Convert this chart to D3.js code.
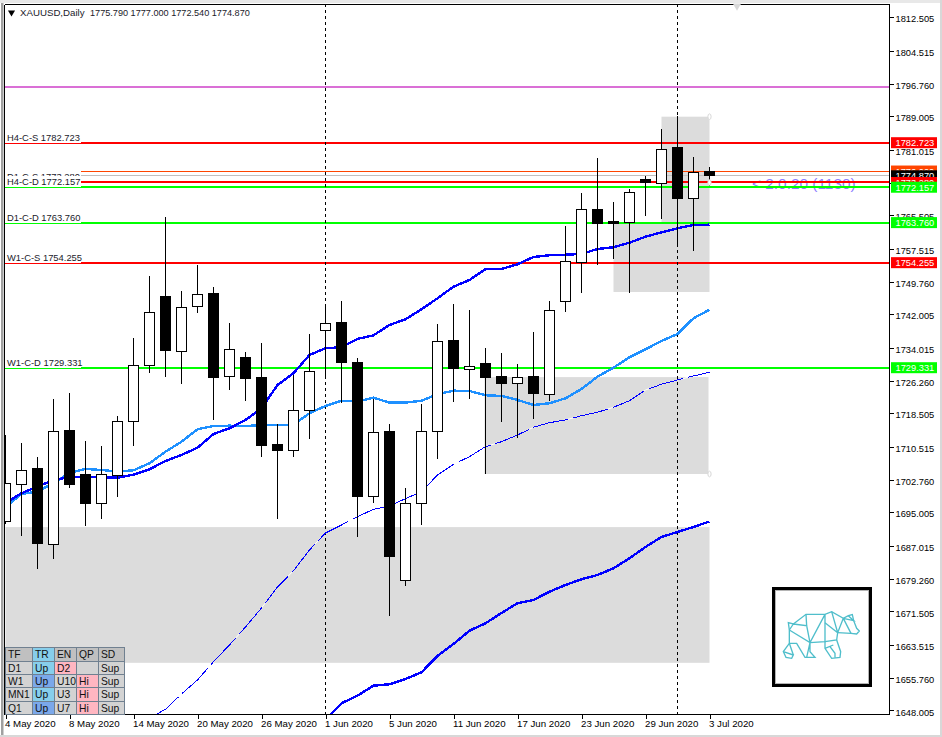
<!DOCTYPE html>
<html>
<head>
<meta charset="utf-8">
<script src="https://cdn.jsdelivr.net/npm/d3@7"></script>
<style>
  html, body { margin: 0; padding: 0; background: #fff; overflow: hidden; }
  svg { display: block; font-family: "Liberation Sans", Arial, sans-serif; }
  .tick text { font-family: "Liberation Sans", Arial, sans-serif; }
</style>
</head>
<body>
<script>
// prices, one entry per trading day from 4 May to 3 Jul 2020
var opens = [1692.72, 1701.57, 1705.30, 1687.33, 1714.31, 1703.87, 1697.06, 1703.80, 1716.52, 1729.90,
  1746.11, 1733.23, 1743.81, 1746.82, 1727.20, 1731.64, 1726.89, 1710.99, 1709.73, 1719.23,
  1738.11, 1739.94, 1730.45, 1698.72, 1714.08, 1678.79, 1697.16, 1714.24, 1735.67, 1728.86,
  1730.21, 1727.13, 1725.63, 1727.13, 1723.02, 1745.09, 1754.35, 1766.76, 1763.91, 1763.84,
  1773.88, 1773.09, 1781.47, 1769.44, 1775.79];
var highs = [1713.36, 1711.47, 1708.14, 1721.84, 1723.33, 1711.94, 1710.75, 1717.87, 1736.38, 1751.10,
  1765.17, 1747.54, 1753.71, 1748.48, 1739.94, 1733.06, 1735.20, 1715.90, 1727.53, 1737.26,
  1744.45, 1745.16, 1731.64, 1721.91, 1715.97, 1700.79, 1720.72, 1739.70, 1744.45, 1743.03,
  1734.01, 1732.82, 1730.21, 1737.81, 1745.16, 1762.96, 1770.79, 1779.10, 1768.66, 1771.67,
  1774.83, 1785.98, 1789.06, 1779.33, 1777.00];
var lows = [1692.24, 1689.47, 1681.57, 1684.01, 1700.79, 1691.77, 1693.50, 1698.65, 1710.83, 1728.15,
  1727.20, 1725.47, 1742.39, 1717.00, 1724.11, 1721.50, 1708.22, 1693.50, 1708.22, 1712.49,
  1726.72, 1721.03, 1689.23, 1697.16, 1670.49, 1677.60, 1692.01, 1707.74, 1721.27, 1721.98,
  1704.04, 1716.52, 1712.72, 1717.23, 1721.50, 1742.62, 1747.13, 1753.78, 1755.20, 1747.13,
  1765.33, 1764.69, 1758.05, 1757.03, 1772.54];
var closes = [1701.74, 1704.99, 1687.50, 1714.24, 1701.57, 1696.99, 1703.87, 1716.62, 1729.90, 1742.48,
  1733.37, 1743.67, 1746.75, 1726.96, 1733.70, 1726.72, 1710.83, 1709.57, 1719.23, 1728.48,
  1739.87, 1730.52, 1698.72, 1714.00, 1684.49, 1697.16, 1714.24, 1735.60, 1729.10, 1729.67,
  1726.96, 1725.54, 1727.06, 1723.17, 1742.96, 1754.58, 1766.92, 1763.51, 1763.51, 1770.96,
  1773.24, 1781.16, 1769.44, 1775.70, 1774.87];

// moving averages, the last two only start part way through the chart
var maFast = [1697.23, 1699.53, 1701.10, 1702.69, 1703.33, 1703.47, 1703.33, 1703.23, 1703.94, 1705.22,
  1707.19, 1708.62, 1710.35, 1713.60, 1714.95, 1716.92, 1719.70, 1725.23, 1728.01, 1732.35,
  1733.94, 1734.18, 1736.15, 1737.02, 1739.47, 1740.82, 1743.19, 1745.80, 1748.56, 1750.15,
  1752.69, 1752.76, 1753.87, 1755.60, 1756.01, 1756.15, 1756.32, 1757.50, 1757.91, 1759.00,
  1760.42, 1761.46, 1762.41, 1763.20, 1763.27];
var maMid = [1696.28, 1699.36, 1699.91, 1701.97, 1704.35, 1705.30, 1705.06, 1704.66, 1704.99, 1706.65,
  1709.40, 1711.77, 1714.72, 1715.50, 1715.57, 1715.50, 1715.67, 1715.74, 1715.81, 1718.51,
  1720.25, 1721.50, 1721.27, 1722.22, 1721.03, 1721.03, 1721.50, 1723.02, 1723.88, 1723.81,
  1722.79, 1722.62, 1721.67, 1720.48, 1720.89, 1722.07, 1724.28, 1727.20, 1729.34, 1731.80,
  1733.70, 1735.67, 1737.33, 1741.06, 1743.10];
var maSlowStart = 9;
var maSlow = [1646.21, 1648.27, 1651.90, 1655.23, 1659.57, 1663.53, 1667.80, 1672.31, 1677.29, 1681.16,
  1686.07, 1690.11, 1692.01, 1693.98, 1695.73, 1696.52, 1698.25, 1699.91, 1703.87, 1706.41,
  1708.22, 1710.59, 1711.77, 1713.36, 1715.19, 1716.28, 1716.92, 1717.94, 1718.75, 1719.94,
  1721.50, 1724.04, 1725.40, 1726.42, 1727.37, 1728.24];
var maLongStart = 20;
var maLong = [1645.73, 1649.70, 1651.50, 1653.87, 1654.21, 1655.46, 1657.05, 1660.92, 1663.77, 1666.92,
  1668.68, 1671.13, 1673.43, 1674.21, 1676.18, 1677.77, 1679.12, 1680.14, 1681.73, 1684.11,
  1686.79, 1689.16, 1690.35, 1691.53, 1692.84];

var priceTicks = [1812.505, 1804.515, 1796.760, 1789.005, 1781.015, 1773.260, 1765.505, 1757.515, 1749.760,
  1742.005, 1734.015, 1726.260, 1718.505, 1710.515, 1702.760, 1695.005, 1687.015, 1679.260, 1671.505,
  1663.515, 1655.760, 1648.005];
var dateTickBars = [0, 4, 8, 12, 16, 20, 24, 28, 32, 36, 40, 44];
var dateTickLabels = ['4 May 2020', '8 May 2020', '14 May 2020', '20 May 2020', '26 May 2020', '1 Jun 2020',
  '5 Jun 2020', '11 Jun 2020', '17 Jun 2020', '23 Jun 2020', '29 Jun 2020', '3 Jul 2020'];

// drawn levels
var levelNames = ['D1-C-S', 'H4-C-S', 'H4-C-D', 'D1-C-D', 'W1-C-S', 'W1-C-D'];
var levelPrices = [1773.280, 1782.723, 1772.157, 1763.760, 1754.255, 1729.331];
var keyLevel = 1796.0;
var orangeLevel = 1776.0;
var lastPrice = 1774.87;

// grey zones: bar it starts at, top price, bottom price
var zoneStarts = [0, 30, 38, 41];
var zoneTops = [1691.5, 1727.1, 1763.8, 1788.9];
var zoneBottoms = [1659.3, 1704.1, 1747.3, 1763.8];
var markerPrices = [1788.9, 1773.28, 1704.1];

var tableHeader = ['TF', 'TR', 'EN', 'QP', 'SD'];
var tableRows = [
  ['D1', 'Up', 'D2', '', 'Sup'],
  ['W1', 'Up', 'U10', 'Hi', 'Sup'],
  ['MN1', 'Up', 'U3', 'Hi', 'Sup'],
  ['Q1', 'Up', 'U7', 'Hi', 'Sup']
];

var svgWidth = 942;
var svgHeight = 737;
var plotLeft = 4;
var plotRight = 889;
var plotTop = 4;
var plotBottom = 714;
var lastBar = opens.length - 1;
var bodyWidth = 10;
var tickFont = 9.3;

var svg = d3.select('body').append('svg')
  .attr('width', svgWidth)
  .attr('height', svgHeight);

var x = d3.scaleLinear().domain([0, 44]).range([5.5, 709.5]);
var y = d3.scaleLinear().domain([1648.005, 1812.505]).range([710.4, 17.2]);

// window frame
svg.append('rect').attr('width', svgWidth).attr('height', svgHeight).attr('fill', '#fff');
svg.append('rect').attr('x', 1).attr('y', 0).attr('width', 2.5).attr('height', svgHeight).attr('fill', '#a0a0a0');
svg.append('rect').attr('x', 0).attr('y', 0).attr('width', svgWidth).attr('height', 3).attr('fill', '#e8e8e8');
svg.append('rect').attr('x', 0).attr('y', 735).attr('width', svgWidth).attr('height', 2).attr('fill', '#d8d8d8');
svg.append('rect').attr('x', 940).attr('y', 0).attr('width', 2).attr('height', svgHeight).attr('fill', '#d8d8d8');

svg.append('clipPath').attr('id', 'plot').append('rect')
  .attr('x', plotLeft + 1).attr('y', plotTop + 1)
  .attr('width', plotRight - plotLeft - 1).attr('height', plotBottom - plotTop - 1);

var plot = svg.append('g').attr('clip-path', 'url(#plot)');

// zones
plot.selectAll('.zone')
  .data(zoneStarts)
  .enter()
  .append('rect')
  .attr('class', 'zone')
  .attr('x', function(d) { return Math.round(x(d)) - 0.5; })
  .attr('y', function(d, i) { return y(zoneTops[i]); })
  .attr('width', function(d) { return x(lastBar) - x(d); })
  .attr('height', function(d, i) { return y(zoneBottoms[i]) - y(zoneTops[i]); })
  .attr('fill', '#dcdcdc');

// countdown sits under the level lines
plot.append('text')
  .attr('x', 752)
  .attr('y', 188.5)
  .attr('font-size', 15.4)
  .attr('fill', '#8c7cff')
  .text('< 2:0:20 (1130)');

var addLevel = function(price, colour, width) {
  plot.append('line')
    .attr('x1', plotLeft).attr('x2', plotRight)
    .attr('y1', y(price)).attr('y2', y(price))
    .attr('stroke', colour)
    .attr('stroke-width', width)
    .attr('shape-rendering', 'crispEdges');
};

addLevel(keyLevel, '#da70d6', 2);
addLevel(orangeLevel, '#ff4500', 1);
addLevel(lastPrice, '#c0c0c0', 1);

var levelColour = function(name) {
  return name.slice(-1) === 'S' ? '#ff0000' : '#00ff00';
};

levelNames.forEach(function(name, i) {
  addLevel(levelPrices[i], levelColour(name), 2);
});

// labels with a white plate that eats the upper half of the line
var labels = plot.selectAll('.level-label')
  .data(levelNames)
  .enter()
  .append('g')
  .attr('class', 'level-label');

labels.append('rect')
  .attr('x', 5)
  .attr('y', function(d, i) { return Math.round(y(levelPrices[i])) - 11; })
  .attr('width', 76)
  .attr('height', 11)
  .attr('fill', '#fff');

labels.append('text')
  .attr('x', 7)
  .attr('y', function(d, i) { return y(levelPrices[i]) - 2; })
  .attr('font-size', 9.4)
  .attr('fill', '#1a1a2a')
  .text(function(d, i) { return d + ' ' + levelPrices[i].toFixed(3); });

// the two session separators
plot.selectAll('.separator')
  .data([20, 42])
  .enter()
  .append('line')
  .attr('class', 'separator')
  .attr('x1', function(d) { return x(d); })
  .attr('x2', function(d) { return x(d); })
  .attr('y1', plotTop)
  .attr('y2', plotBottom)
  .attr('stroke', '#000')
  .attr('stroke-dasharray', '3,3')
  .attr('shape-rendering', 'crispEdges');

var maLine = function(start) {
  return d3.line()
    .x(function(d, i) { return x(i + start); })
    .y(function(d) { return y(d); });
};

plot.append('path')
  .attr('d', maLine(maSlowStart)(maSlow))
  .attr('fill', 'none')
  .attr('stroke', '#fff')
  .attr('stroke-width', 1);
plot.append('path')
  .attr('d', maLine(maSlowStart)(maSlow))
  .attr('fill', 'none')
  .attr('stroke', '#0000ff')
  .attr('stroke-width', 1)
  .attr('stroke-dasharray', '36,5')
  .attr('shape-rendering', 'crispEdges');
plot.append('path')
  .attr('d', maLine(0)(maMid))
  .attr('fill', 'none')
  .attr('stroke', '#1e90ff')
  .attr('stroke-width', 2.4)
  .attr('shape-rendering', 'crispEdges');
plot.append('path')
  .attr('d', maLine(0)(maFast))
  .attr('fill', 'none')
  .attr('stroke', '#0000ff')
  .attr('stroke-width', 2.4)
  .attr('shape-rendering', 'crispEdges');
plot.append('path')
  .attr('d', maLine(maLongStart)(maLong))
  .attr('fill', 'none')
  .attr('stroke', '#0000ff')
  .attr('stroke-width', 2.4)
  .attr('shape-rendering', 'crispEdges');

// candles
var candles = plot.selectAll('.candle')
  .data(opens)
  .enter()
  .append('g')
  .attr('class', 'candle');

candles.append('line')
  .attr('x1', function(d, i) { return x(i); })
  .attr('x2', function(d, i) { return x(i); })
  .attr('y1', function(d, i) { return y(highs[i]); })
  .attr('y2', function(d, i) { return y(lows[i]); })
  .attr('stroke', '#000')
  .attr('shape-rendering', 'crispEdges');

candles.append('rect')
  .attr('x', function(d, i) { return x(i) - bodyWidth / 2; })
  .attr('y', function(d, i) { return y(Math.max(d, closes[i])); })
  .attr('width', bodyWidth)
  .attr('height', function(d, i) { return Math.abs(y(d) - y(closes[i])); })
  .attr('fill', function(d, i) { return closes[i] >= d ? '#fff' : '#000'; })
  .attr('stroke', '#000')
  .attr('shape-rendering', 'crispEdges');

// small grey ellipses at the right end of the zones
plot.selectAll('.marker')
  .data(markerPrices)
  .enter()
  .append('ellipse')
  .attr('class', 'marker')
  .attr('cx', x(lastBar))
  .attr('cy', function(d) { return y(d); })
  .attr('rx', 1.6)
  .attr('ry', 2.8)
  .attr('fill', '#fff')
  .attr('stroke', '#d8d8d8')
  .attr('stroke-width', 1);

// axes
var rightAxis = d3.axisRight(y)
  .tickValues(priceTicks)
  .tickFormat(d3.format('.3f'))
  .tickSize(4)
  .tickPadding(2);

var rightG = svg.append('g')
  .attr('transform', 'translate(' + (plotRight + 0.5) + ',0)')
  .call(rightAxis);
rightG.select('.domain').remove();
rightG.selectAll('line').attr('shape-rendering', 'crispEdges');
rightG.selectAll('text')
  .attr('font-size', tickFont)
  .attr('dy', '0.5em')
  .attr('fill', '#000');

var bottomAxis = d3.axisBottom(x)
  .tickValues(dateTickBars)
  .tickFormat(function(d, i) { return dateTickLabels[i]; })
  .tickSize(4)
  .tickPadding(2);

var bottomG = svg.append('g')
  .attr('transform', 'translate(0,' + (plotBottom + 0.5) + ')')
  .call(bottomAxis);
bottomG.select('.domain').remove();
bottomG.selectAll('line').attr('shape-rendering', 'crispEdges');
bottomG.selectAll('text')
  .attr('font-size', 9.7)
  .attr('text-anchor', 'start')
  .attr('dx', -1)
  .attr('fill', '#000');

var frame = [
  [plotLeft, plotTop, plotLeft, plotBottom],
  [plotLeft, plotTop, plotRight, plotTop],
  [plotRight, plotTop, plotRight, plotBottom],
  [plotLeft, plotBottom, plotRight, plotBottom]
];
svg.selectAll('.frame')
  .data(frame)
  .enter()
  .append('line')
  .attr('class', 'frame')
  .attr('x1', function(d) { return d[0] + 0.5; })
  .attr('y1', function(d) { return d[1] + 0.5; })
  .attr('x2', function(d) { return d[2] + 0.5; })
  .attr('y2', function(d) { return d[3] + 0.5; })
  .attr('stroke', '#000')
  .attr('shape-rendering', 'crispEdges');

// price tags on the right, order matters where they overlap
var tagPrices = [orangeLevel, lastPrice, 1782.723, 1773.280, 1772.157, 1763.760, 1754.255, 1729.331];
var tagColours = ['#ff4500', '#000000', '#ff0000', '#ff0000', '#00ff00', '#00ff00', '#ff0000', '#00ff00'];
var tags = svg.selectAll('.tag')
  .data(tagPrices)
  .enter()
  .append('g')
  .attr('class', 'tag');

tags.append('rect')
  .attr('x', 891)
  .attr('y', function(d) { return y(d) - 5.5; })
  .attr('width', 46)
  .attr('height', 11)
  .attr('fill', function(d, i) { return tagColours[i]; });

tags.append('text')
  .attr('x', 895.5)
  .attr('y', function(d) { return y(d) + 3.6; })
  .attr('font-size', tickFont)
  .attr('fill', '#fff')
  .text(function(d) { return d.toFixed(3); });

// header
svg.append('path')
  .attr('d', d3.symbol().type(d3.symbolTriangle).size(22))
  .attr('transform', 'translate(11.5,12.5) rotate(180)')
  .attr('fill', '#000');
svg.append('text')
  .attr('x', 20)
  .attr('y', 16)
  .attr('font-size', 9.7)
  .attr('fill', '#1a1a2a')
  .text('XAUUSD,Daily');
svg.append('text')
  .attr('x', 90)
  .attr('y', 16)
  .attr('font-size', 9.15)
  .attr('fill', '#1a1a2a')
  .text('1775.790 1777.000 1772.540 1774.870');

// scroll marker at the top
svg.append('path')
  .attr('d', d3.symbol().type(d3.symbolTriangle).size(30))
  .attr('transform', 'translate(737,6) rotate(180)')
  .attr('fill', '#d8d8d8');

// status table
var colEdges = [5, 32, 54, 76, 98, 124];
var rowEdges = [647, 660.5, 674, 687, 700.5, 714];
var cellRows = [tableHeader].concat(tableRows);

var cellFill = function(r, c, text) {
  if (c === 1) { return (r === 2 || r === 4) ? '#7ba8ea' : '#87ceeb'; }
  if (text === 'D2' || text === 'Hi') { return '#ffb6c1'; }
  return r === 0 ? '#c0c0c0' : '#d3d3d3';
};

var rows = svg.selectAll('.table-row')
  .data(cellRows)
  .enter()
  .append('g')
  .attr('class', 'table-row');

rows.each(function(row, r) {
  var cells = d3.select(this).selectAll('g')
    .data(row)
    .enter()
    .append('g');
  cells.append('rect')
    .attr('x', function(d, c) { return colEdges[c] + 0.5; })
    .attr('y', rowEdges[r] + 0.5)
    .attr('width', function(d, c) { return colEdges[c + 1] - colEdges[c]; })
    .attr('height', rowEdges[r + 1] - rowEdges[r])
    .attr('fill', function(d, c) { return cellFill(r, c, d); })
    .attr('stroke', '#708090')
    .attr('shape-rendering', 'crispEdges');
  cells.append('text')
    .attr('x', function(d, c) { return colEdges[c] + 3; })
    .attr('y', rowEdges[r] + 11)
    .attr('font-size', 10.3)
    .attr('fill', '#111')
    .text(function(d) { return d; });
});

// logo box
var logo = svg.append('g');
logo.append('rect')
  .attr('x', 773.5).attr('y', 588.5)
  .attr('width', 97).attr('height', 97)
  .attr('fill', '#fff')
  .attr('stroke', '#000')
  .attr('stroke-width', 3);
logo.append('rect')
  .attr('x', 775.5).attr('y', 590.5)
  .attr('width', 93).attr('height', 93)
  .attr('fill', 'none')
  .attr('stroke', '#b4b4b4')
  .attr('stroke-width', 1);

var bearPaths = [
  'M43,90 L40,68 L55,72 L93,43 L150,43 L170,35 L205,55 L220,47 L232,44 L236,62 L245,85 L253,93 L245,102 L228,100 L188,98',
  'M55,72 L95,77 L93,43 M43,90 L55,72 M95,77 L105,128 M43,90 L105,128 L150,43 L150,125 L105,128',
  'M170,35 L188,98 L205,55 M150,68 L188,98 M150,125 L185,120 L188,98 M205,55 L228,100 M220,47 L236,62 L205,55',
  'M43,90 L43,130 L25,155 L33,172 L50,175 L55,165 L25,155 M43,130 L65,130 L90,172 L120,172 L105,155 L105,128 L95,172',
  'M43,130 L55,165 M150,125 L150,145 L170,175 L195,172 L197,155 L185,120 M150,145 L175,135 M165,140 L180,160 L180,172'
];
logo.append('g')
  .attr('transform', 'translate(775,600) scale(0.3333)')
  .selectAll('path')
  .data(bearPaths)
  .enter()
  .append('path')
  .attr('d', function(d) { return d; })
  .attr('fill', 'none')
  .attr('stroke', '#4fbecb')
  .attr('stroke-width', 4);
</script>
</body>
</html>
